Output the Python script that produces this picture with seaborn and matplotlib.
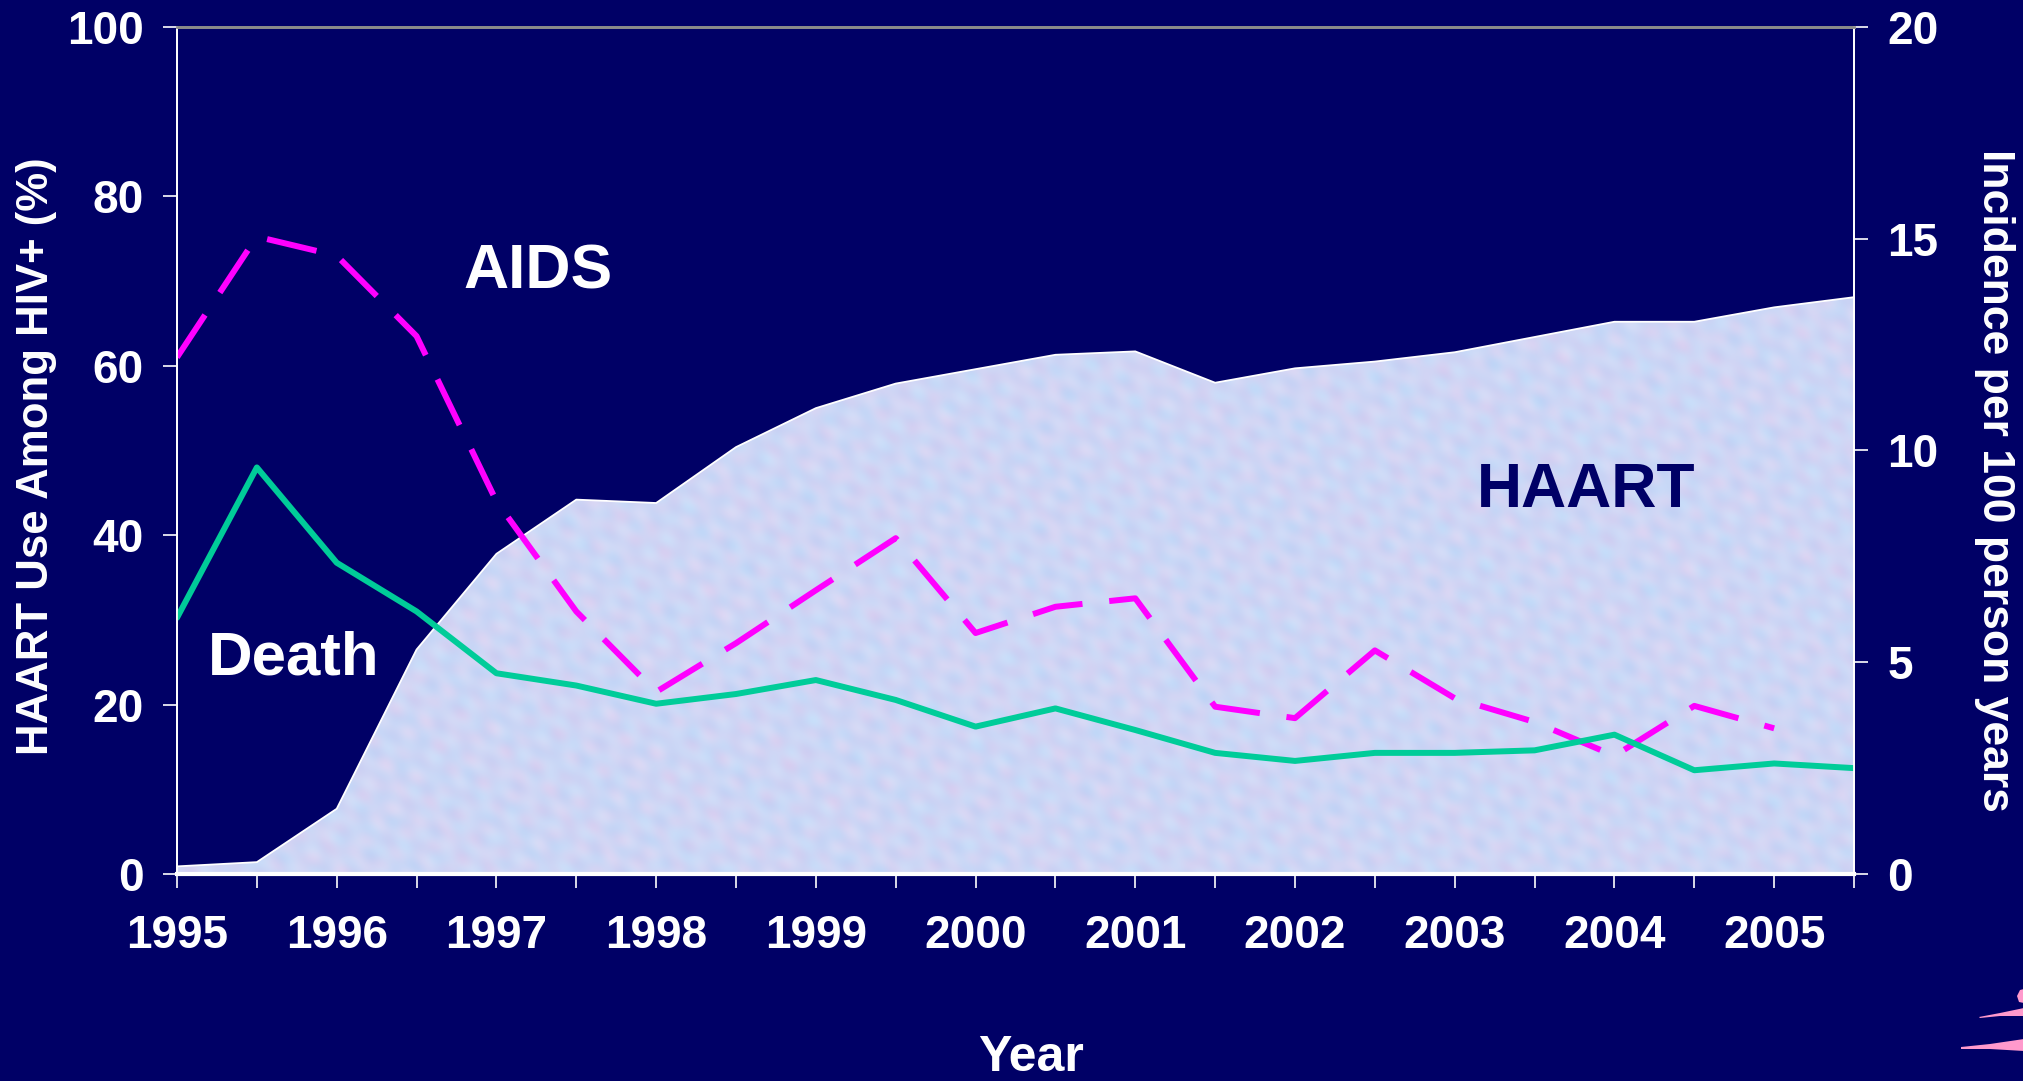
import numpy as np
import pandas as pd
import matplotlib
matplotlib.use("Agg")
import matplotlib.pyplot as plt
from matplotlib.patches import Polygon
import seaborn as sns

# ---- data -------------------------------------------------------------
years = [1995.0, 1995.5, 1996.0, 1996.5, 1997.0, 1997.5, 1998.0, 1998.5,
         1999.0, 1999.5, 2000.0, 2000.5, 2001.0, 2001.5, 2002.0, 2002.5,
         2003.0, 2003.5, 2004.0, 2004.5, 2005.0, 2005.5]

# HAART use among HIV+ (%), left axis
haart_pct = [0.9, 1.4, 7.7, 26.5, 37.8, 44.2, 43.8, 50.4, 55.0, 57.9, 59.6,
             61.3, 61.7, 58.0, 59.7, 60.5, 61.6, 63.4, 65.2, 65.2, 66.9, 68.1]

# AIDS incidence per 100 person years (reported through 2005)
aids_rate = [12.2, 15.05, 14.6, 12.7, 8.8, 6.2, 4.3, 5.45, 6.7, 7.93, 5.69,
             6.31, 6.51, 3.95, 3.68, 5.28, 4.15, 3.59, 2.79, 3.97, 3.44]

# Death incidence per 100 person years
death_rate = [6.05, 9.6, 7.35, 6.2, 4.74, 4.45, 4.02, 4.25, 4.58, 4.11, 3.48,
              3.91, 3.40, 2.86, 2.67, 2.86, 2.86, 2.92, 3.29, 2.45, 2.61, 2.50]

left_ticks = [0, 20, 40, 60, 80, 100]
right_ticks = [0, 5, 10, 15, 20]

haart_df = pd.DataFrame({"year": years, "haart": haart_pct})
aids_df = pd.DataFrame({"year": years[:len(aids_rate)], "rate": aids_rate})
death_df = pd.DataFrame({"year": years, "rate": death_rate})

# ---- style ------------------------------------------------------------
NAVY = "#000066"
MAGENTA = "#ff00ff"
GREEN = "#00cc99"

sns.set_style("dark")
plt.rcParams["font.family"] = ["Liberation Sans", "DejaVu Sans"]
plt.rcParams["font.weight"] = "bold"
plt.rcParams["axes.labelweight"] = "bold"

W, H = 2024, 1081
fig = plt.figure(figsize=(W / 100, H / 100), dpi=100, facecolor=NAVY)
L, R, T, B = 177, 1854, 27, 874
ax = fig.add_axes([L / W, 1 - B / H, (R - L) / W, (B - T) / H])
ax.set_facecolor(NAVY)
ax.grid(False)

# ---- HAART area with a mottled pastel texture -------------------------
ax.set_xlim(1995, 2005.5)
ax.set_ylim(0, 100)
area = ax.fill_between(haart_df["year"], 0, haart_df["haart"],
                       facecolor="#cbdaf3", edgecolor="none", zorder=1)

ny, nx = 280, 560
yy, xx = np.mgrid[0:ny, 0:nx].astype(float)
f1 = (np.sin(0.61 * xx + 0.27 * yy) + np.sin(0.23 * xx - 0.77 * yy + 1.1)
      + np.sin(0.89 * xx + 0.53 * yy + 2.3) + np.sin(-0.51 * xx + 0.41 * yy + 3.7)
      + np.sin(0.13 * xx + 0.17 * yy + 0.4) + np.sin(0.37 * xx + 0.93 * yy + 5.9))
f2 = (np.sin(0.43 * xx - 0.37 * yy + 0.9) + np.sin(0.83 * xx + 0.14 * yy + 4.1)
      + np.sin(0.21 * xx + 0.91 * yy + 2.2) + np.sin(0.57 * xx + 0.69 * yy + 5.3))
t = (f1 - f1.min()) / (f1.max() - f1.min())
s = (f2 - f2.min()) / (f2.max() - f2.min())
blue = np.array([0.72, 0.86, 0.98])
pink = np.array([0.90, 0.80, 0.93])
lilac = np.array([0.75, 0.79, 0.95])
light = np.array([0.86, 0.91, 0.99])
rgb = (blue * (1 - t)[..., None] + pink * t[..., None]) * 0.55 + \
      (lilac * s[..., None] + light * (1 - s)[..., None]) * 0.45
rgb = np.clip(rgb, 0, 1)
tex = ax.imshow(rgb, extent=[1995, 2005.5, 0, 100], aspect="auto",
                origin="lower", interpolation="bicubic", zorder=2)
tex.set_clip_path(area.get_paths()[0], transform=ax.transData)

sns.lineplot(data=haart_df, x="year", y="haart", ax=ax, color="white",
             linewidth=1.3, zorder=3)

ax.text(2003.82, 43.3, "HAART", color=NAVY, fontsize=45, fontweight="bold",
        ha="center", va="baseline", zorder=4)

# ---- incidence lines on the right axis ---------------------------------
ax2 = ax.twinx()
ax2.set_ylim(0, 20)
ax2.patch.set_visible(False)
ax2.grid(False)
sns.lineplot(data=aids_df, x="year", y="rate", ax=ax2, color=MAGENTA,
             linewidth=4.3, linestyle=(0, (8.5, 4.5)))
sns.lineplot(data=death_df, x="year", y="rate", ax=ax2, color=GREEN,
             linewidth=4.3)

ax2.text(1997.26, 13.82, "AIDS", color="white", fontsize=45,
         fontweight="bold", ha="center", va="baseline")
ax2.text(1995.73, 4.72, "Death", color="white", fontsize=44.5,
         fontweight="bold", ha="center", va="baseline")

# ---- axes, ticks, labels ----------------------------------------------
xt_labels = []
for y in years:
    xt_labels.append(str(int(y)) if float(y).is_integer() else "")
ax.set_xticks(years)
ax.set_xticklabels(xt_labels)
ax.set_yticks(left_ticks)
ax2.set_yticks(right_ticks)
ax.set_xlim(1995, 2005.5)

ax.tick_params(axis="x", colors="white", labelsize=33, length=10,
               width=1.2, pad=19, direction="out", bottom=True)
ax.tick_params(axis="y", colors="white", labelsize=33, length=10,
               width=1.2, pad=14, direction="out", left=True)
ax2.tick_params(axis="y", colors="white", labelsize=33, length=10,
                width=1.2, pad=14, direction="out", right=True)

ax.set_xlabel("")
ax.set_ylabel("")
ax2.set_ylabel("")

for a in (ax, ax2):
    for side in ("left", "right", "bottom"):
        a.spines[side].set_color("white")
        a.spines[side].set_linewidth(1.3)
    a.spines["top"].set_color("#8a8a8a")
    a.spines["top"].set_linewidth(2)
ax.spines["bottom"].set_linewidth(3)
ax2.spines["bottom"].set_visible(False)
ax.spines["bottom"].set_zorder(5)

fig.text(37 / W, 1 - 456 / H, "HAART Use Among HIV+ (%)", rotation=90,
         color="white", fontsize=31.5, fontweight="bold",
         ha="center", va="center")
fig.text(1995 / W, 1 - 480 / H, "Incidence per 100 person years",
         rotation=-90, color="white", fontsize=32, fontweight="bold",
         ha="center", va="center")
fig.text(1031 / W, 1 - 1071 / H, "Year", color="white", fontsize=36,
         fontweight="bold", ha="center", va="baseline")

# ---- corner ornament ---------------------------------------------------
ORN = "#ff99cc"
def fig_poly(pts):
    return Polygon([(x / W, 1 - y / H) for x, y in pts], closed=True,
                   transform=fig.transFigure, facecolor=ORN,
                   edgecolor="none")

fig.patches.append(fig_poly([(1979, 1017), (2000, 1013), (2024, 1008),
                             (2024, 1016), (2000, 1016), (1980, 1018)]))
fig.patches.append(fig_poly([(1961, 1047), (1990, 1044), (2024, 1039),
                             (2024, 1051), (1990, 1049), (1961, 1049)]))
fig.patches.append(fig_poly([(2020, 990), (2024, 989), (2024, 1003),
                             (2019, 1002), (2017, 996)]))

fig.savefig("out.png", dpi=100, facecolor=NAVY)
